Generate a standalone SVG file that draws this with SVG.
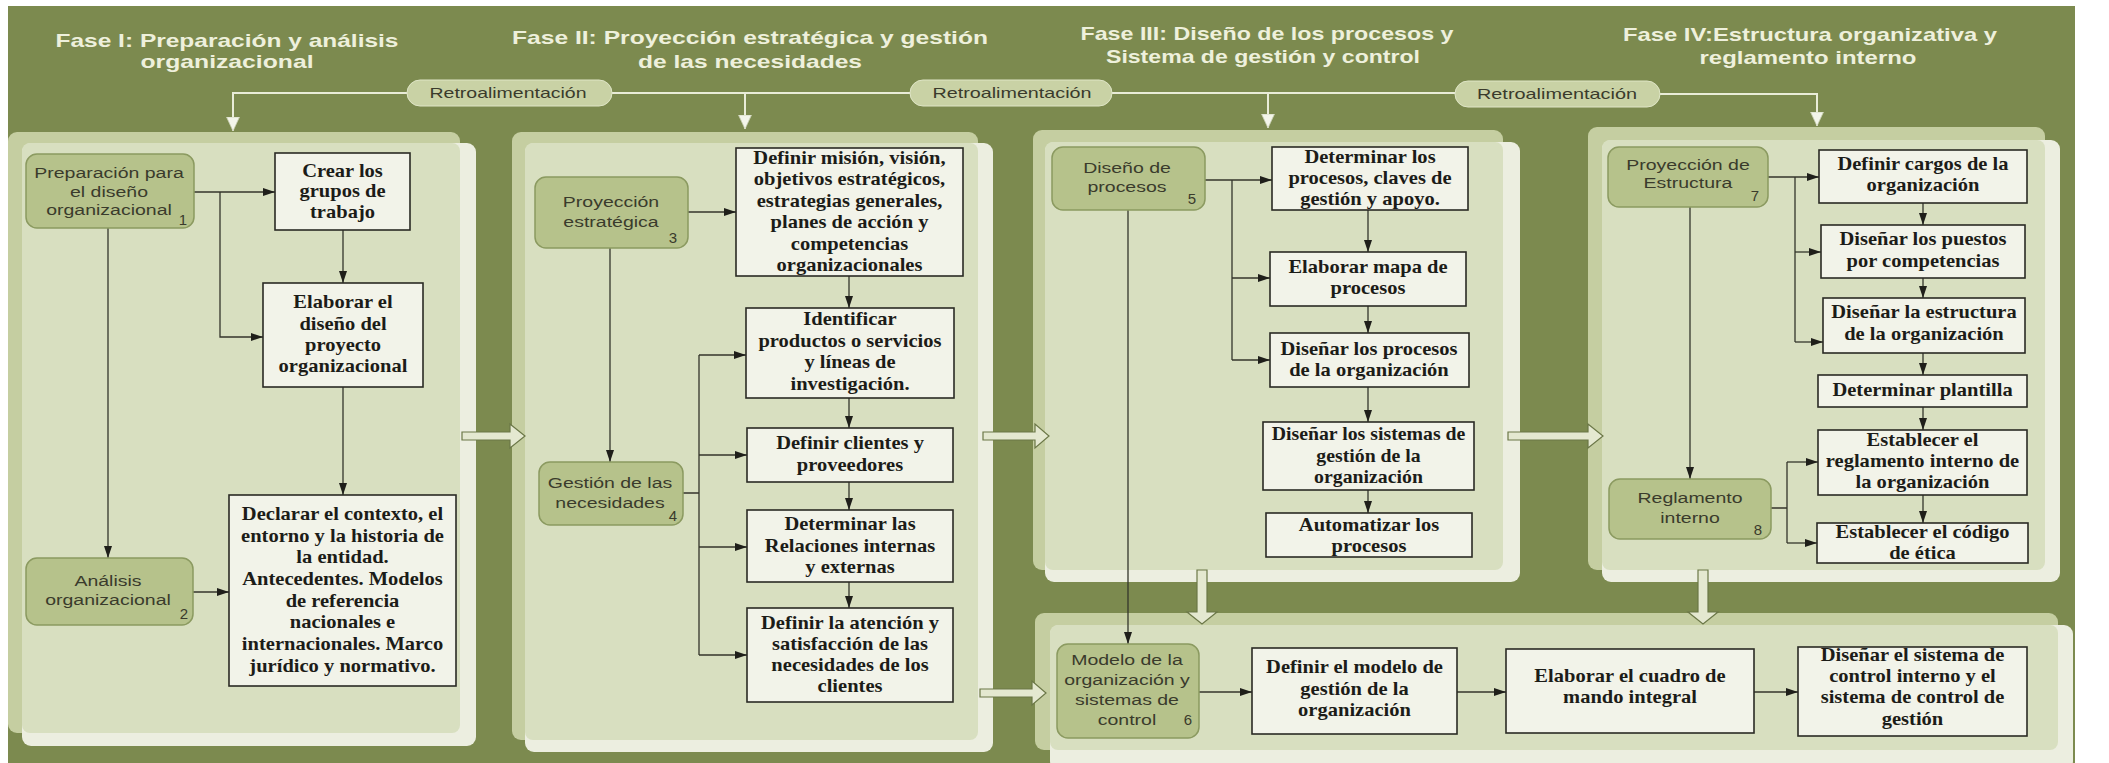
<svg xmlns="http://www.w3.org/2000/svg" width="2109" height="763" viewBox="0 0 2109 763">
<defs>
<style>
.bg{fill:#7c8a4f}
.pb{fill:#c5cea1}
.pf{fill:#eceee0}
.pi{fill:#d8dfc0}
.nd{fill:#b6c28b;stroke:#8b9a60;stroke-width:1.5}
.nt{font-family:"Liberation Sans",Arial,sans-serif;font-size:15px;fill:#3a3b2c;text-anchor:middle}
.bx{fill:#f2f3e9;stroke:#2a2a24;stroke-width:1.6}
.bt{font-family:"Liberation Serif","Times New Roman",serif;font-weight:bold;font-size:18px;fill:#1c1c18;text-anchor:middle}
.ti{font-family:"Liberation Sans",Arial,sans-serif;font-weight:bold;font-size:19px;fill:#eef0dc;text-anchor:middle}
.pl{fill:#c9d2a5;stroke:#dfe5c6;stroke-width:1}
.fb{fill:none;stroke:#e9ecd8;stroke-width:2}
.cn{fill:none;stroke:#34352b;stroke-width:1.3}
.ar{marker-end:url(#ah)}
.wa{marker-end:url(#wh)}
.ba{fill:#e4e8d0;stroke:#6b7747;stroke-width:1.2}
</style>
<marker id="ah" markerUnits="userSpaceOnUse" markerWidth="12" markerHeight="8" refX="12" refY="4" orient="auto"><path d="M0,0 L12,4 L0,8 z" fill="#1f1f1a"/></marker>
<marker id="wh" markerUnits="userSpaceOnUse" markerWidth="15" markerHeight="15" refX="14" refY="7" orient="auto"><path d="M0,0.5 L14,7 L0,13.5 z" fill="#f3f5ea" stroke="#c9cfb2" stroke-width="0.8"/></marker>
</defs>

<!-- backdrop -->
<rect class="bg" x="8" y="6" width="2067" height="757"/>

<!-- phase titles -->
<g id="titles">
<text class="ti" x="227" y="47" textLength="343" lengthAdjust="spacingAndGlyphs">Fase I: Preparación y análisis</text>
<text class="ti" x="227" y="68" textLength="173" lengthAdjust="spacingAndGlyphs">organizacional</text>
<text class="ti" x="750" y="44" textLength="476" lengthAdjust="spacingAndGlyphs">Fase II: Proyección estratégica y gestión</text>
<text class="ti" x="750" y="68" textLength="224" lengthAdjust="spacingAndGlyphs">de las necesidades</text>
<text class="ti" x="1267" y="40" textLength="373" lengthAdjust="spacingAndGlyphs">Fase III: Diseño de los procesos y</text>
<text class="ti" x="1263" y="63" textLength="314" lengthAdjust="spacingAndGlyphs">Sistema de gestión y control</text>
<text class="ti" x="1810" y="41" textLength="374" lengthAdjust="spacingAndGlyphs">Fase IV:Estructura organizativa y</text>
<text class="ti" x="1808" y="64" textLength="217" lengthAdjust="spacingAndGlyphs">reglamento interno</text>
</g>

<!-- phase panels: back plate, light edge plate, inner face -->
<g id="panel-1">
<rect class="pb" x="8" y="132" width="452" height="601" rx="9"/>
<rect class="pf" x="22" y="143" width="454" height="603" rx="9"/>
<rect class="pi" x="22" y="143" width="438" height="590" rx="8"/>
</g>
<g id="panel-2">
<rect class="pb" x="512" y="132" width="466" height="608" rx="9"/>
<rect class="pf" x="525" y="143" width="468" height="609" rx="9"/>
<rect class="pi" x="525" y="143" width="453" height="597" rx="8"/>
</g>
<g id="panel-3">
<rect class="pb" x="1033" y="130" width="470" height="440" rx="9"/>
<rect class="pf" x="1045" y="142" width="475" height="440" rx="9"/>
<rect class="pi" x="1045" y="142" width="458" height="428" rx="8"/>
</g>
<g id="panel-4">
<rect class="pb" x="1588" y="127" width="457" height="443" rx="9"/>
<rect class="pf" x="1602" y="140" width="458" height="442" rx="9"/>
<rect class="pi" x="1602" y="140" width="443" height="430" rx="8"/>
</g>
<g id="panel-5">
<rect class="pb" x="1035" y="613" width="1023" height="137" rx="9"/>
<rect class="pf" x="1050" y="625" width="1023" height="145" rx="9"/>
<rect class="pi" x="1050" y="625" width="1008" height="125" rx="8"/>
</g>

<!-- hollow block arrows between phases -->
<g id="phase-arrows">
<polygon class="ba" points="462,432 510,432 510,424 525,436 510,448 510,440 462,440"/>
<polygon class="ba" points="983,432 1035,432 1035,424 1049,436 1035,448 1035,440 983,440"/>
<polygon class="ba" points="980,689 1032,689 1032,681 1046,693 1032,705 1032,697 980,697"/>
<polygon class="ba" points="1508,432 1588,432 1588,424 1603,436 1588,448 1588,440 1508,440"/>
<polygon class="ba" points="1197,570 1207,570 1207,612 1217,612 1202,624 1187,612 1197,612"/>
<polygon class="ba" points="1698,570 1708,570 1708,612 1718,612 1703,624 1688,612 1698,612"/>
</g>

<!-- feedback loop -->
<g id="feedback">
<path class="fb wa" d="M407,93 H233 V131"/>
<path class="fb" d="M612,93 H910"/>
<path class="fb wa" d="M745,93 V129"/>
<path class="fb" d="M1112,93 H1455"/>
<path class="fb wa" d="M1268,93 V128"/>
<path class="fb wa" d="M1660,94 H1817 V126"/>
<rect class="pl" x="407" y="80" width="205" height="26" rx="13"/>
<rect class="pl" x="910" y="80" width="202" height="26" rx="13"/>
<rect class="pl" x="1455" y="81" width="205" height="26" rx="13"/>
<text class="nt" x="508" y="98" textLength="157" lengthAdjust="spacingAndGlyphs">Retroalimentación</text>
<text class="nt" x="1012" y="98" textLength="159" lengthAdjust="spacingAndGlyphs">Retroalimentación</text>
<text class="nt" x="1557" y="99" textLength="160" lengthAdjust="spacingAndGlyphs">Retroalimentación</text>
</g>

<!-- connectors -->
<g id="connectors">
<path class="cn ar" d="M194,192 H275"/>
<path class="cn ar" d="M220,192 V337 H263"/>
<path class="cn ar" d="M343,230 V283"/>
<path class="cn ar" d="M343,387 V495"/>
<path class="cn ar" d="M108,228 V558"/>
<path class="cn ar" d="M193,592 H229"/>

<path class="cn ar" d="M688,212 H736"/>
<path class="cn ar" d="M849,276 V308"/>
<path class="cn ar" d="M849,398 V428"/>
<path class="cn ar" d="M849,482 V510"/>
<path class="cn ar" d="M849,582 V608"/>
<path class="cn ar" d="M610,248 V462"/>
<path class="cn" d="M683,493 H699 M699,355 V655"/>
<path class="cn ar" d="M699,355 H746"/>
<path class="cn ar" d="M699,455 H747"/>
<path class="cn ar" d="M699,547 H747"/>
<path class="cn ar" d="M699,655 H747"/>

<path class="cn ar" d="M1205,180 H1272"/>
<path class="cn" d="M1232,180 V360"/>
<path class="cn ar" d="M1232,278 H1270"/>
<path class="cn ar" d="M1232,360 H1270"/>
<path class="cn ar" d="M1368,210 V252"/>
<path class="cn ar" d="M1368,306 V333"/>
<path class="cn ar" d="M1368,387 V422"/>
<path class="cn ar" d="M1368,490 V513"/>
<path class="cn ar" d="M1128,210 V644"/>

<path class="cn ar" d="M1199,692 H1252"/>
<path class="cn ar" d="M1457,692 H1506"/>
<path class="cn ar" d="M1754,692 H1798"/>

<path class="cn ar" d="M1768,177 H1819"/>
<path class="cn" d="M1795,177 V342"/>
<path class="cn ar" d="M1795,252 H1821"/>
<path class="cn ar" d="M1795,342 H1823"/>
<path class="cn ar" d="M1923,203 V225"/>
<path class="cn ar" d="M1923,278 V298"/>
<path class="cn ar" d="M1923,353 V375"/>
<path class="cn ar" d="M1923,407 V430"/>
<path class="cn ar" d="M1923,495 V523"/>
<path class="cn ar" d="M1690,207 V479"/>
<path class="cn" d="M1771,508 H1787 M1787,462 V543"/>
<path class="cn ar" d="M1787,462 H1818"/>
<path class="cn ar" d="M1787,543 H1817"/>
</g>

<!-- phase I -->
<g id="n1"><rect class="nd" x="26" y="154" width="168" height="74" rx="11"/>
<g transform="translate(109 0) scale(1.3 1)"><text class="nt" y="178">Preparación para</text><text class="nt" y="197">el diseño</text><text class="nt" y="215">organizacional</text></g>
<text class="nt" x="183" y="225">1</text></g>
<g id="n2"><rect class="nd" x="26" y="558" width="167" height="67" rx="11"/>
<g transform="translate(108 0) scale(1.3 1)"><text class="nt" y="586">Análisis</text><text class="nt" y="605">organizacional</text></g>
<text class="nt" x="184" y="619">2</text></g>
<g id="b-crear"><rect class="bx" x="275" y="153" width="135" height="77"/>
<g transform="translate(342.5 0) scale(1.14 1)"><text class="bt" y="177">Crear los</text><text class="bt" y="197">grupos de</text><text class="bt" y="218">trabajo</text></g></g>
<g id="b-elaborar"><rect class="bx" x="263" y="283" width="160" height="104"/>
<g transform="translate(343 0) scale(1.14 1)"><text class="bt" y="308">Elaborar el</text><text class="bt" y="330">diseño del</text><text class="bt" y="351">proyecto</text><text class="bt" y="372">organizacional</text></g></g>
<g id="b-declarar"><rect class="bx" x="229" y="495" width="227" height="191"/>
<g transform="translate(342.5 0) scale(1.14 1)"><text class="bt" y="520">Declarar el contexto, el</text><text class="bt" y="542">entorno y la historia de</text><text class="bt" y="563">la entidad.</text><text class="bt" y="585">Antecedentes. Modelos</text><text class="bt" y="607">de referencia</text><text class="bt" y="628">nacionales e</text><text class="bt" y="650">internacionales. Marco</text><text class="bt" y="672">jurídico y normativo.</text></g></g>

<!-- phase II -->
<g id="n3"><rect class="nd" x="535" y="177" width="153" height="71" rx="11"/>
<g transform="translate(611 0) scale(1.3 1)"><text class="nt" y="207">Proyección</text><text class="nt" y="227">estratégica</text></g>
<text class="nt" x="673" y="243">3</text></g>
<g id="n4"><rect class="nd" x="539" y="462" width="144" height="63" rx="11"/>
<g transform="translate(610 0) scale(1.3 1)"><text class="nt" y="488">Gestión de las</text><text class="nt" y="508">necesidades</text></g>
<text class="nt" x="673" y="521">4</text></g>
<g id="b-mision"><rect class="bx" x="736" y="148" width="227" height="128"/>
<g transform="translate(849.5 0) scale(1.14 1)"><text class="bt" y="164">Definir misión, visión,</text><text class="bt" y="185">objetivos estratégicos,</text><text class="bt" y="207">estrategias generales,</text><text class="bt" y="228">planes de acción y</text><text class="bt" y="250">competencias</text><text class="bt" y="271">organizacionales</text></g></g>
<g id="b-identificar"><rect class="bx" x="746" y="308" width="208" height="90"/>
<g transform="translate(850 0) scale(1.14 1)"><text class="bt" y="325">Identificar</text><text class="bt" y="347">productos o servicios</text><text class="bt" y="368">y líneas de</text><text class="bt" y="390">investigación.</text></g></g>
<g id="b-clientes"><rect class="bx" x="747" y="428" width="206" height="54"/>
<g transform="translate(850 0) scale(1.14 1)"><text class="bt" y="449">Definir clientes y</text><text class="bt" y="471">proveedores</text></g></g>
<g id="b-relaciones"><rect class="bx" x="747" y="510" width="206" height="72"/>
<g transform="translate(850 0) scale(1.14 1)"><text class="bt" y="530">Determinar las</text><text class="bt" y="552">Relaciones internas</text><text class="bt" y="573">y externas</text></g></g>
<g id="b-atencion"><rect class="bx" x="747" y="608" width="206" height="94"/>
<g transform="translate(850 0) scale(1.14 1)"><text class="bt" y="629">Definir la atención y</text><text class="bt" y="650">satisfacción de las</text><text class="bt" y="671">necesidades de los</text><text class="bt" y="692">clientes</text></g></g>

<!-- phase III -->
<g id="n5"><rect class="nd" x="1052" y="147" width="153" height="63" rx="11"/>
<g transform="translate(1127 0) scale(1.3 1)"><text class="nt" y="173">Diseño de</text><text class="nt" y="192">procesos</text></g>
<text class="nt" x="1192" y="204">5</text></g>
<g id="b-determinar"><rect class="bx" x="1272" y="147" width="196" height="63"/>
<g transform="translate(1370 0) scale(1.14 1)"><text class="bt" y="163">Determinar los</text><text class="bt" y="184">procesos, claves de</text><text class="bt" y="205">gestión y apoyo.</text></g></g>
<g id="b-mapa"><rect class="bx" x="1270" y="252" width="196" height="54"/>
<g transform="translate(1368 0) scale(1.14 1)"><text class="bt" y="273">Elaborar mapa de</text><text class="bt" y="294">procesos</text></g></g>
<g id="b-procesos"><rect class="bx" x="1270" y="333" width="199" height="54"/>
<g transform="translate(1369 0) scale(1.14 1)"><text class="bt" y="355">Diseñar los procesos</text><text class="bt" y="376">de la organización</text></g></g>
<g id="b-sistemas"><rect class="bx" x="1263" y="422" width="211" height="68"/>
<g transform="translate(1368.5 0) scale(1.1 1)"><text class="bt" y="440">Diseñar los sistemas de</text><text class="bt" y="462">gestión de la</text><text class="bt" y="483">organización</text></g></g>
<g id="b-automatizar"><rect class="bx" x="1266" y="513" width="206" height="44"/>
<g transform="translate(1369 0) scale(1.14 1)"><text class="bt" y="531">Automatizar los</text><text class="bt" y="552">procesos</text></g></g>

<!-- organisation model and control -->
<g id="n6"><rect class="nd" x="1057" y="644" width="142" height="94" rx="11"/>
<g transform="translate(1127 0) scale(1.3 1)"><text class="nt" y="665">Modelo de la</text><text class="nt" y="685">organización y</text><text class="nt" y="705">sistemas de</text><text class="nt" y="725">control</text></g>
<text class="nt" x="1188" y="725">6</text></g>
<g id="b-modelo"><rect class="bx" x="1252" y="648" width="205" height="86"/>
<g transform="translate(1354.5 0) scale(1.14 1)"><text class="bt" y="673">Definir el modelo de</text><text class="bt" y="695">gestión de la</text><text class="bt" y="716">organización</text></g></g>
<g id="b-cuadro"><rect class="bx" x="1506" y="649" width="248" height="84"/>
<g transform="translate(1630 0) scale(1.14 1)"><text class="bt" y="682">Elaborar el cuadro de</text><text class="bt" y="703">mando integral</text></g></g>
<g id="b-control"><rect class="bx" x="1798" y="647" width="229" height="89"/>
<g transform="translate(1912.5 0) scale(1.14 1)"><text class="bt" y="661">Diseñar el sistema de</text><text class="bt" y="682">control interno y el</text><text class="bt" y="703">sistema de control de</text><text class="bt" y="725">gestión</text></g></g>

<!-- phase IV -->
<g id="n7"><rect class="nd" x="1608" y="147" width="160" height="60" rx="11"/>
<g transform="translate(1688 0) scale(1.3 1)"><text class="nt" y="170">Proyección de</text><text class="nt" y="188">Estructura</text></g>
<text class="nt" x="1755" y="201">7</text></g>
<g id="n8"><rect class="nd" x="1609" y="479" width="162" height="60" rx="11"/>
<g transform="translate(1690 0) scale(1.3 1)"><text class="nt" y="503">Reglamento</text><text class="nt" y="523">interno</text></g>
<text class="nt" x="1758" y="535">8</text></g>
<g id="b-cargos"><rect class="bx" x="1819" y="150" width="208" height="53"/>
<g transform="translate(1923 0) scale(1.14 1)"><text class="bt" y="170">Definir cargos de la</text><text class="bt" y="191">organización</text></g></g>
<g id="b-puestos"><rect class="bx" x="1821" y="225" width="204" height="53"/>
<g transform="translate(1923 0) scale(1.14 1)"><text class="bt" y="245">Diseñar los puestos</text><text class="bt" y="267">por competencias</text></g></g>
<g id="b-estructura"><rect class="bx" x="1823" y="298" width="202" height="55"/>
<g transform="translate(1924 0) scale(1.14 1)"><text class="bt" y="318">Diseñar la estructura</text><text class="bt" y="340">de la organización</text></g></g>
<g id="b-plantilla"><rect class="bx" x="1818" y="375" width="209" height="32"/>
<g transform="translate(1922.5 0) scale(1.14 1)"><text class="bt" y="396">Determinar plantilla</text></g></g>
<g id="b-reglamento"><rect class="bx" x="1818" y="430" width="209" height="65"/>
<g transform="translate(1922.5 0) scale(1.14 1)"><text class="bt" y="446">Establecer el</text><text class="bt" y="467">reglamento interno de</text><text class="bt" y="488">la organización</text></g></g>
<g id="b-etica"><rect class="bx" x="1817" y="523" width="211" height="40"/>
<g transform="translate(1922.5 0) scale(1.14 1)"><text class="bt" y="538">Establecer el código</text><text class="bt" y="559">de ética</text></g></g>
</svg>
